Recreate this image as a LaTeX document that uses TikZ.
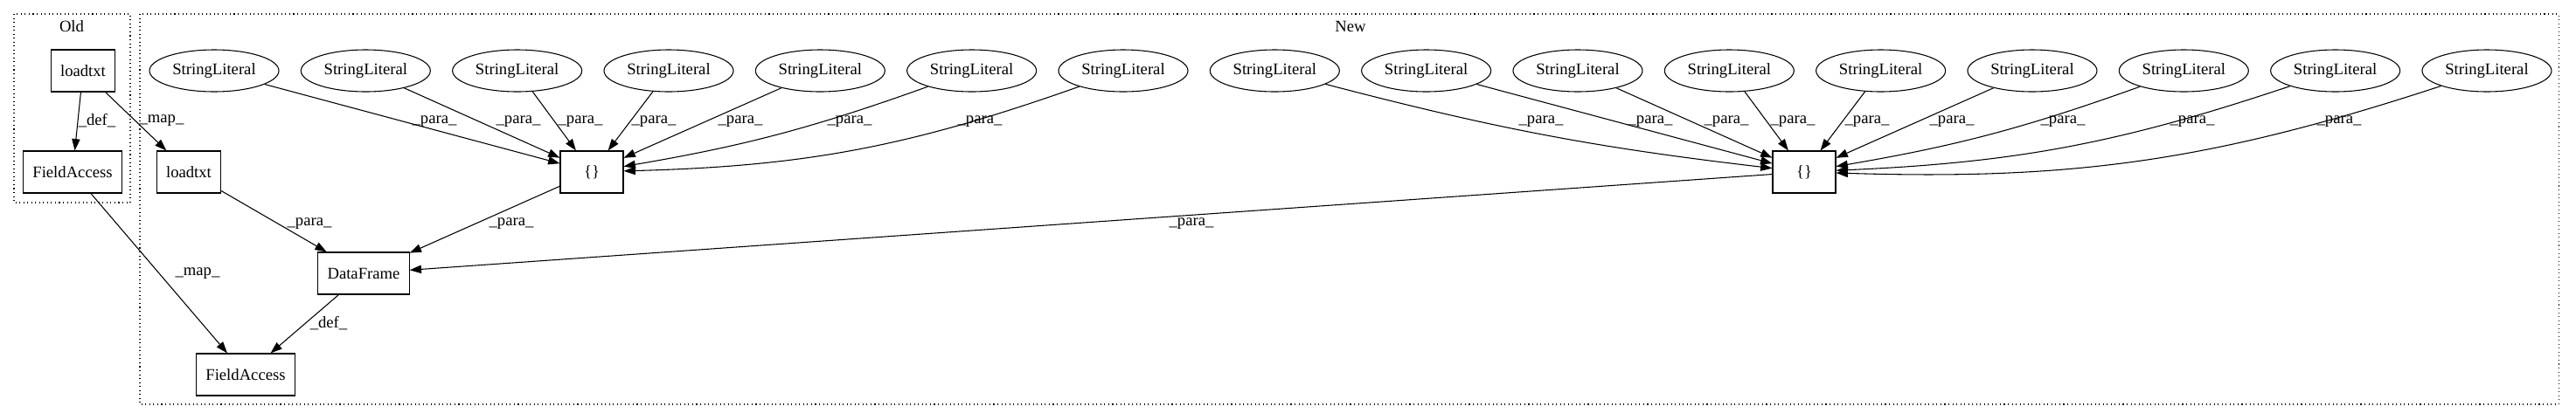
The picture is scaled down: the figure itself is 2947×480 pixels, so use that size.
\documentclass[tikz,border=0pt]{standalone}
\usepackage{fontspec}
\setmainfont{Liberation Serif}
\usetikzlibrary{arrows.meta,shapes.geometric}
\tikzset{
  lit/.style={ellipse, draw, line width=0.8pt, minimum width=111pt, minimum height=36pt, inner sep=0pt},
  op/.style={rectangle, draw, line width=0.8pt, minimum width=54pt, minimum height=36pt, inner xsep=8pt},
  flow/.style={-{Triangle[length=10pt,width=7pt]}, line width=0.8pt},
  lbl/.style={inner sep=0pt},
  cluster/.style={dash pattern=on 0.8pt off 2.6pt, line width=0.8pt}
}
\begin{document}
\begin{tikzpicture}[x=0.75pt, y=-0.75pt, font=\fontsize{14}{16}\selectfont]
    \useasboundingbox (0,0) rectangle (2947,480);
    \draw[cluster] (16,16) rectangle (149,232);
    \draw[cluster] (160,16) rectangle (2927,463);
    \node (oldlbl) at (82,30) {Old};
    \node (newlbl) at (1545,30) {New};

    \node[op] (oldload) at (95,81) {loadtxt};
    \node[op] (oldfa) at (83,197) {FieldAccess};
    \node[op] (newload) at (216,197) {loadtxt};
    \node[op] (brace1) at (677,197) {\{\}};
    \node[op] (brace2) at (2064,197) {\{\}};
    \node[op] (df) at (416,313) {DataFrame};
    \node[op] (newfa) at (281,429) {FieldAccess};
    \foreach \i in {1,...,16}
        \node[lit] (sl\i) at ({245+173.33*(\i-1)},81) {StringLiteral};

    \foreach \i/\b/\lx in {1/0/497, 2/0/593, 3/0/664, 4/0/748, 5/0/847, 6/5/972, 7/9/1121}
        \draw[flow] (sl\i) to[bend left=\b] (brace1) node[lbl] at (\lx,139) {\_para\_};
    \foreach \i/\b/\lx in {8/-4/1763, 9/0/1888, 10/0/1975, 11/0/2051, 12/0/2136, 13/0/2233, 14/5/2360, 15/8/2508, 16/10/2676}
        \draw[flow] (sl\i) to[bend left=\b] (brace2) node[lbl] at (\lx,139) {\_para\_};

    \draw[flow] (oldload) -- (oldfa) node[lbl] at (111,138) {\_def\_};
    \draw[flow] (oldload) -- (newload) node[lbl] at (185,138) {\_map\_};
    \draw[flow] (oldfa) -- (newfa) node[lbl] at (226,313) {\_map\_};
    \draw[flow] (newload) -- (df) node[lbl] at (354,256) {\_para\_};
    \draw[flow] (brace1) -- (df) node[lbl] at (585,256) {\_para\_};
    \draw[flow] (brace2) -- (df) node[lbl] at (1363,256) {\_para\_};
    \draw[flow] (df) -- (newfa) node[lbl] at (376,370) {\_def\_};
\end{tikzpicture}
\end{document}
